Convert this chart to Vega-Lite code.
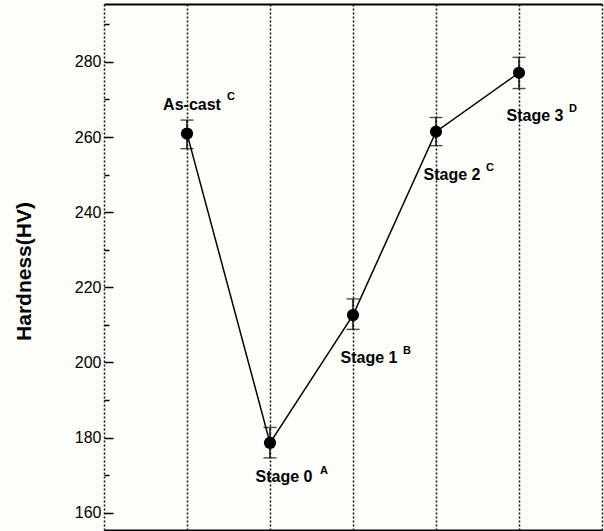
{
  "$schema": "https://vega.github.io/schema/vega-lite/v6.json",
  "width": 498,
  "height": 526,
  "autosize": {"type": "none"},
  "padding": {"left": 104, "top": 4, "right": 2, "bottom": 1},
  "background": "#fdfdfa",
  "config": {"view": {"stroke": null}, "font": "Liberation Sans"},
  "data": {
    "values": [
      {"i": 0, "name": "As-cast", "sup": "C", "hv": 260.9, "lo": 256.9, "hi": 264.5},
      {"i": 1, "name": "Stage 0", "sup": "A", "hv": 178.6, "lo": 174.6, "hi": 182.7},
      {"i": 2, "name": "Stage 1", "sup": "B", "hv": 212.6, "lo": 208.8, "hi": 216.9},
      {"i": 3, "name": "Stage 2", "sup": "C", "hv": 261.4, "lo": 257.7, "hi": 265.2},
      {"i": 4, "name": "Stage 3", "sup": "D", "hv": 277.1, "lo": 272.9, "hi": 281.2}
    ]
  },
  "layer": [
    {
      "mark": {"type": "line", "color": "black", "strokeWidth": 1.5},
      "encoding": {
        "x": {
          "field": "i", "type": "quantitative",
          "scale": {"domain": [-1, 5], "nice": false, "zero": false},
          "axis": {"orient": "bottom", "values": [-1, 0, 1, 2, 3, 4, 5], "grid": true, "gridColor": "#111111", "gridDash": [2, 2], "gridWidth": 1.5, "gridOpacity": 1, "ticks": false, "labels": false, "domain": true, "domainColor": "black", "domainWidth": 2, "title": null}
        },
        "y": {
          "field": "hv", "type": "quantitative", "title": "Hardness(HV)",
          "scale": {"domain": [155.4, 295.4], "nice": false, "zero": false},
          "axis": {
            "values": [160, 165, 170, 175, 180, 185, 190, 195, 200, 205, 210, 215, 220, 225, 230, 235, 240, 245, 250, 255, 260, 265, 270, 275, 280, 285, 290],
            "labelExpr": "datum.value % 20 === 0 ? datum.label : ''",
            "tickSize": {"condition": {"test": "datum.value % 20 === 0", "value": -9}, "value": -5},
            "tickColor": "black", "tickWidth": 1.5,
            "domain": false, "grid": false,
            "labelFontSize": 16, "labelColor": "black", "labelPadding": 12,
            "titleFontSize": 21, "titleFontWeight": "bold", "titleColor": "black",
            "titleX": -80, "titleY": 267, "titleAlign": "center", "titleBaseline": "middle", "titleAngle": 270
          }
        }
      }
    },
    {
      "mark": {"type": "errorbar", "color": "black", "ticks": {"size": 13}, "thickness": 1.4},
      "encoding": {
        "x": {"field": "i", "type": "quantitative", "axis": null},
        "y": {"field": "lo", "type": "quantitative", "title": "Hardness(HV)"},
        "y2": {"field": "hi"}
      }
    },
    {
      "mark": {"type": "point", "filled": true, "color": "black", "size": 150, "opacity": 1},
      "encoding": {
        "x": {"field": "i", "type": "quantitative", "axis": {"orient": "top", "grid": false, "ticks": false, "labels": false, "domain": true, "domainColor": "black", "domainWidth": 2, "title": null}},
        "y": {"field": "hv", "type": "quantitative", "title": "Hardness(HV)"}
      }
    },
    {
      "transform": [{"filter": "datum.name === 'As-cast'"}],
      "mark": {"type": "text", "fontSize": 16, "fontWeight": "bold", "color": "black", "align": "center", "baseline": "alphabetic", "dx": 5, "dy": -24},
      "encoding": {"x": {"field": "i", "type": "quantitative", "axis": null}, "y": {"field": "hv", "type": "quantitative", "title": "Hardness(HV)"}, "text": {"field": "name"}}
    },
    {
      "transform": [{"filter": "datum.name === 'As-cast'"}],
      "mark": {"type": "text", "fontSize": 11, "fontWeight": "bold", "color": "black", "align": "left", "baseline": "alphabetic", "dx": 40, "dy": -34},
      "encoding": {"x": {"field": "i", "type": "quantitative", "axis": null}, "y": {"field": "hv", "type": "quantitative", "title": "Hardness(HV)"}, "text": {"field": "sup"}}
    },
    {
      "transform": [{"filter": "datum.name === 'Stage 0'"}],
      "mark": {"type": "text", "fontSize": 16, "fontWeight": "bold", "color": "black", "align": "center", "baseline": "alphabetic", "dx": 14, "dy": 39},
      "encoding": {"x": {"field": "i", "type": "quantitative", "axis": null}, "y": {"field": "hv", "type": "quantitative", "title": "Hardness(HV)"}, "text": {"field": "name"}}
    },
    {
      "transform": [{"filter": "datum.name === 'Stage 0'"}],
      "mark": {"type": "text", "fontSize": 11, "fontWeight": "bold", "color": "black", "align": "left", "baseline": "alphabetic", "dx": 50, "dy": 31},
      "encoding": {"x": {"field": "i", "type": "quantitative", "axis": null}, "y": {"field": "hv", "type": "quantitative", "title": "Hardness(HV)"}, "text": {"field": "sup"}}
    },
    {
      "transform": [{"filter": "datum.i >= 2"}],
      "mark": {"type": "text", "fontSize": 16, "fontWeight": "bold", "color": "black", "align": "center", "baseline": "alphabetic", "dx": 16, "dy": 48},
      "encoding": {"x": {"field": "i", "type": "quantitative", "axis": null}, "y": {"field": "hv", "type": "quantitative", "title": "Hardness(HV)"}, "text": {"field": "name"}}
    },
    {
      "transform": [{"filter": "datum.i >= 2"}],
      "mark": {"type": "text", "fontSize": 11, "fontWeight": "bold", "color": "black", "align": "left", "baseline": "alphabetic", "dx": 50, "dy": 39},
      "encoding": {"x": {"field": "i", "type": "quantitative", "axis": null}, "y": {"field": "hv", "type": "quantitative", "title": "Hardness(HV)"}, "text": {"field": "sup"}}
    }
  ],
  "resolve": {"axis": {"x": "independent"}}
}
